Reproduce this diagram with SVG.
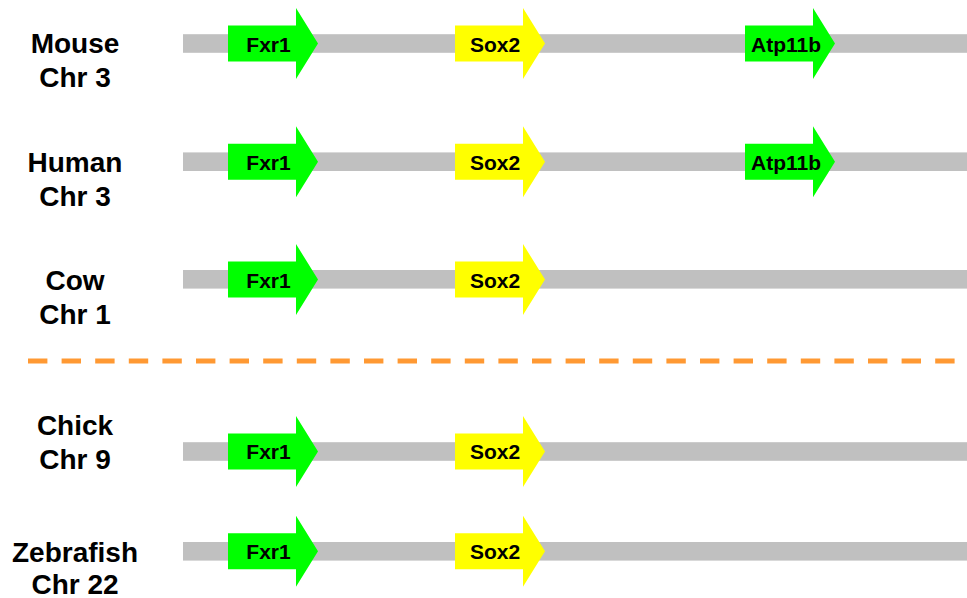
<svg xmlns="http://www.w3.org/2000/svg" xmlns:xlink="http://www.w3.org/1999/xlink" width="967" height="598" viewBox="0 0 967 598">
  <style>
    .species { font-family: "Liberation Sans", Arial, sans-serif; font-weight: bold; font-size: 28px; fill: #000; text-anchor: middle; }
    .gene-label { font-family: "Liberation Sans", Arial, sans-serif; font-weight: bold; font-size: 21px; fill: #000; text-anchor: middle; }
    .chrom { fill: #C0C0C0; }
    .green { fill: #00FF00; }
    .yellow { fill: #FFFF00; }
    .divider { stroke: #FF9933; stroke-width: 5; stroke-dasharray: 19.4 14.2; fill: none; }
  </style>
  <defs>
    <!-- gene arrow, origin at left end of the body, vertically centred -->
    <path id="gene" d="M0,-18 H68 V-35.5 L90,0 L68,35.5 V18 H0 Z"/>
  </defs>

  <!-- chromosome bars -->
  <g id="chromosomes">
    <rect class="chrom" x="183" y="34.2" width="784" height="18.6"/>
    <rect class="chrom" x="183" y="152.4" width="784" height="18.6"/>
    <rect class="chrom" x="183" y="270" width="784" height="18.6"/>
    <rect class="chrom" x="183" y="442.2" width="784" height="18.6"/>
    <rect class="chrom" x="183" y="542" width="784" height="18.6"/>
  </g>

  <!-- mammal / non-mammal divider -->
  <g id="connectors">
    <line class="divider" x1="28" y1="361" x2="955" y2="361"/>
  </g>

  <!-- species labels -->
  <g id="label-mouse"><text class="species" x="75" y="53">Mouse</text><text class="species" x="75" y="87">Chr 3</text></g>
  <g id="label-human"><text class="species" x="75" y="171.5">Human</text><text class="species" x="75" y="205.5">Chr 3</text></g>
  <g id="label-cow"><text class="species" x="75" y="289.5">Cow</text><text class="species" x="75" y="323.5">Chr 1</text></g>
  <g id="label-chick"><text class="species" x="75" y="435">Chick</text><text class="species" x="75" y="469">Chr 9</text></g>
  <g id="label-zebrafish"><text class="species" x="75" y="562">Zebrafish</text><text class="species" x="75" y="593.5">Chr 22</text></g>

  <!-- Mouse Chr 3 -->
  <g id="mouse-fxr1"><use xlink:href="#gene" class="green" x="228" y="43.5"/><text class="gene-label" x="268.5" y="51.5">Fxr1</text></g>
  <g id="mouse-sox2"><use xlink:href="#gene" class="yellow" x="455" y="43.5"/><text class="gene-label" x="495" y="51.5">Sox2</text></g>
  <g id="mouse-atp11b"><use xlink:href="#gene" class="green" x="745" y="43.5"/><text class="gene-label" x="786" y="51.5">Atp11b</text></g>

  <!-- Human Chr 3 -->
  <g id="human-fxr1"><use xlink:href="#gene" class="green" x="228" y="161.7"/><text class="gene-label" x="268.5" y="169.7">Fxr1</text></g>
  <g id="human-sox2"><use xlink:href="#gene" class="yellow" x="455" y="161.7"/><text class="gene-label" x="495" y="169.7">Sox2</text></g>
  <g id="human-atp11b"><use xlink:href="#gene" class="green" x="745" y="161.7"/><text class="gene-label" x="786" y="169.7">Atp11b</text></g>

  <!-- Cow Chr 1 -->
  <g id="cow-fxr1"><use xlink:href="#gene" class="green" x="228" y="279.5"/><text class="gene-label" x="268.5" y="287.5">Fxr1</text></g>
  <g id="cow-sox2"><use xlink:href="#gene" class="yellow" x="455" y="279.5"/><text class="gene-label" x="495" y="287.5">Sox2</text></g>

  <!-- Chick Chr 9 -->
  <g id="chick-fxr1"><use xlink:href="#gene" class="green" x="228" y="451.4"/><text class="gene-label" x="268.5" y="459.4">Fxr1</text></g>
  <g id="chick-sox2"><use xlink:href="#gene" class="yellow" x="455" y="451.4"/><text class="gene-label" x="495" y="459.4">Sox2</text></g>

  <!-- Zebrafish Chr 22 -->
  <g id="zebrafish-fxr1"><use xlink:href="#gene" class="green" x="228" y="551.2"/><text class="gene-label" x="268.5" y="559.2">Fxr1</text></g>
  <g id="zebrafish-sox2"><use xlink:href="#gene" class="yellow" x="455" y="551.2"/><text class="gene-label" x="495" y="559.2">Sox2</text></g>
</svg>
